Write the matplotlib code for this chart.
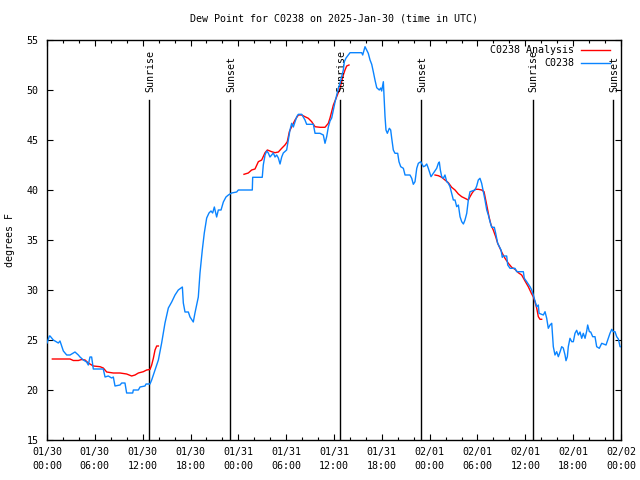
import numpy as np
import matplotlib
matplotlib.use("Agg")
import matplotlib.pyplot as plt
from matplotlib.ticker import MultipleLocator
from matplotlib.lines import Line2D

# ---- data (x = hours since 2025-01-30 00:00 UTC) ----
obs_hours = [0.0, 0.3, 0.38, 0.79, 1.42, 1.63, 2.05, 2.47, 2.89, 3.51, 3.93, 4.14, 4.56, 4.97, 5.18, 5.39,
             5.60, 5.81, 7.06, 7.28, 7.69, 8.11, 8.32, 8.53, 9.16, 9.37, 9.78, 9.99, 10.75, 10.83, 11.46,
             11.67, 12.29, 12.42, 12.92, 13.13, 13.55, 13.97, 14.38, 14.80, 15.22, 15.64, 16.06, 16.47,
             16.98, 17.10, 17.31, 17.73, 17.94, 18.35, 18.56, 18.98, 19.19, 19.48, 19.73, 20.03, 20.32,
             20.57, 20.78, 20.99, 21.28, 21.49, 21.83, 22.12, 22.45, 22.75, 23.16, 23.79, 24.0, 25.75,
             25.8, 27.0, 27.13, 27.35, 27.56, 27.76, 27.97, 28.18, 28.39, 28.60, 28.81, 29.02, 29.23,
             29.44, 29.64, 30.06, 30.27, 30.48, 30.69, 30.90, 31.11, 31.32, 31.53, 31.95, 32.15, 32.36,
             32.57, 33.41, 33.62, 34.24, 34.66, 34.87, 35.08, 35.29, 35.50, 35.71, 35.92, 36.13, 36.34,
             36.54, 36.75, 36.96, 37.17, 37.30, 37.51, 37.80, 38.01, 39.47, 39.60, 39.89, 40.10, 40.30,
             40.52, 40.73, 40.93, 41.14, 41.36, 41.68, 41.86, 41.98, 42.19, 42.27, 42.40, 42.52, 42.69,
             42.94, 43.11, 43.24, 43.44, 43.65, 43.99, 44.15, 44.37, 44.70, 44.91, 45.53, 45.75, 45.95,
             46.16, 46.38, 46.58, 46.88, 47.21, 47.42, 47.63, 47.83, 48.17, 48.46, 48.88, 49.09, 49.21,
             49.34, 49.51, 49.71, 49.92, 50.14, 50.34, 50.55, 50.76, 50.97, 51.18, 51.39, 51.60, 51.81,
             52.02, 52.23, 52.43, 52.65, 52.85, 53.06, 53.69, 53.90, 54.10, 54.31, 54.52, 54.73, 54.94,
             55.16, 55.36, 55.57, 55.78, 56.11, 56.28, 56.53, 56.70, 56.95, 57.11, 57.24, 57.66, 57.79,
             58.08, 58.70, 58.92, 59.75, 59.87, 60.17, 60.59, 60.80, 61.00, 61.21, 61.43, 61.63, 61.72,
             62.26, 62.47, 62.68, 62.88, 63.10, 63.31, 63.43, 63.51, 63.72, 63.93, 64.14, 64.35, 64.56,
             64.76, 64.98, 65.10, 65.27, 65.39, 65.60, 65.82, 66.02, 66.23, 66.44, 66.65, 66.86, 67.07,
             67.27, 67.49, 67.70, 67.82, 68.03, 68.20, 68.45, 68.74, 68.95, 69.28, 69.58, 70.12, 70.41,
             70.62, 70.84, 71.04, 71.25, 71.46, 71.67, 71.88, 72.0]
obs_values = [24.7, 25.4, 25.4, 25.0, 24.7, 24.9, 23.9, 23.5, 23.5, 23.8, 23.5, 23.3, 23.0, 22.8, 22.5, 23.3,
              23.3, 22.1, 22.1, 21.3, 21.4, 21.2, 21.3, 20.4, 20.5, 20.7, 20.7, 19.7, 19.7, 20.0, 20.0,
              20.3, 20.4, 20.6, 20.6, 21.0, 22.0, 23.0, 24.7, 26.7, 28.2, 28.8, 29.5, 30.0,
              30.3, 28.7, 27.8, 27.8, 27.3, 26.8, 27.7, 29.3, 31.7, 34.0, 35.7, 37.2, 37.7,
              37.9, 37.7, 38.3, 37.3, 38.0, 38.0, 38.8, 39.3, 39.5, 39.7, 39.8, 40.0, 40.0,
              41.27, 41.27, 42.5, 43.5, 43.9, 43.7, 43.3, 43.5, 43.7, 43.3, 43.5, 43.2, 42.6,
              43.3, 43.7, 44.0, 45.0, 46.0, 46.67, 46.3, 46.83, 47.33, 47.57, 47.57, 47.3, 47.0,
              46.57, 46.57, 45.67, 45.67, 45.5, 44.67, 45.33, 46.3, 46.9, 47.2, 48.0, 48.8, 49.5,
              50.17, 50.67, 51.33, 52.0, 52.83, 53.2, 53.5, 53.73, 53.73, 53.5, 54.33, 54.0, 53.67,
              53.0, 52.57, 51.83, 51.0, 50.23, 50.0, 50.2, 49.9, 50.83, 49.5, 47.33, 46.0, 45.67,
              46.17, 46.0, 45.17, 44.0, 43.67, 43.67, 42.83, 42.33, 42.17, 41.5, 41.5, 41.17, 40.57,
              40.83, 42.17, 42.67, 42.83, 42.33, 42.4, 42.6, 42.17, 41.33, 41.67, 42.17, 42.67, 42.8,
              42.0, 41.33, 41.17, 41.5, 40.83, 40.67, 40.33, 39.67, 39.0, 39.0, 38.33, 38.5, 37.33,
              36.83, 36.6, 37.0, 37.67, 39.0, 39.83, 40.0, 40.4, 41.0, 41.17, 40.67, 39.83, 39.0,
              38.0, 37.5, 36.83, 36.27, 36.27, 35.67, 34.67, 34.4, 34.0, 33.27, 33.4, 33.4, 32.5,
              32.17, 32.17, 31.83, 31.83, 31.17, 30.83, 30.33, 30.0, 29.5, 28.9, 28.33, 28.5, 27.67,
              27.5, 27.83, 27.17, 26.17, 26.5, 26.67, 25.33, 24.33, 23.5, 23.83, 23.33, 23.8, 24.33,
              24.2, 23.5, 22.93, 23.33, 24.33, 25.17, 24.83, 24.83, 25.67, 25.97, 25.5, 25.8, 25.17,
              25.67, 25.17, 25.9, 26.5, 25.83, 25.8, 25.33, 25.33, 24.33, 24.17, 24.67, 24.5, 25.17,
              25.67, 26.07, 25.83, 25.83, 25.33, 25.1, 24.33, 24.33]

# analysis: three separate windows
ana1_hours = [0.67, 2.89, 3.30, 3.93, 4.35, 4.77, 5.18, 5.81, 6.65, 7.06, 7.49, 8.32, 9.16, 9.99, 10.62,
              11.04, 11.46, 12.08, 12.50, 12.92, 13.13, 13.34, 13.55, 13.76, 13.97]
ana1_values = [23.1, 23.1, 22.95, 22.95, 23.05, 23.0, 22.7, 22.4, 22.33, 22.2, 21.8, 21.7, 21.7, 21.6, 21.4,
               21.5, 21.7, 21.83, 22.0, 22.05, 22.5, 23.17, 24.0, 24.4, 24.4]
ana2_hours = [24.71, 25.25, 25.67, 26.09, 26.51, 26.93, 27.35, 27.64, 28.18, 28.60, 29.02, 29.44, 29.85,
              30.14, 30.40, 30.69, 31.11, 31.53, 31.95, 32.36, 32.78, 33.20, 33.62, 34.24, 34.87, 35.29,
              35.50, 35.92, 36.34, 36.75, 36.96, 37.17, 37.38, 37.59, 37.88]
ana2_values = [41.57, 41.7, 42.0, 42.1, 42.83, 43.0, 43.73, 44.0, 43.83, 43.73, 43.8, 44.17, 44.5,
               44.83, 45.83, 46.33, 47.0, 47.5, 47.5, 47.33, 47.17, 46.83, 46.33, 46.27, 46.27, 46.67,
               47.2, 48.5, 49.33, 50.17, 50.83, 51.5, 52.0, 52.4, 52.5]
ana3_hours = [48.67, 49.09, 49.51, 49.92, 50.34, 50.76, 51.18, 51.60, 52.02, 52.43, 52.85, 53.06, 53.35,
              53.69, 54.10, 54.52, 54.82, 55.03, 55.28, 55.44, 55.70, 55.98, 56.28, 56.53, 56.82, 57.11,
              57.45, 57.87, 58.29, 58.70, 59.12, 59.54, 59.96, 60.37, 60.80, 61.00, 61.21, 61.43, 61.63,
              61.84, 62.05]
ana3_values = [41.5, 41.43, 41.27, 41.0, 40.73, 40.27, 40.0, 39.6, 39.33, 39.17, 39.0, 39.33, 39.73,
               40.07, 40.07, 40.0, 39.83, 39.0, 38.0, 37.33, 36.5, 36.0, 35.33, 34.67, 34.17, 33.67,
               33.17, 32.67, 32.27, 32.07, 31.73, 31.5, 30.9, 30.33, 29.6, 29.33, 28.83, 28.17, 27.33,
               27.07, 27.07]

sunrise_hours = [12.83, 36.80, 60.90]
sunset_hours = [23.00, 46.97, 71.05]

x_tick_labels = ["01/30\n00:00", "01/30\n06:00", "01/30\n12:00", "01/30\n18:00",
                 "01/31\n00:00", "01/31\n06:00", "01/31\n12:00", "01/31\n18:00",
                 "02/01\n00:00", "02/01\n06:00", "02/01\n12:00", "02/01\n18:00",
                 "02/02\n00:00"]

title = "Dew Point for C0238 on 2025-Jan-30 (time in UTC)"
ylabel = "degrees F"
obs_name = "C0238"
ana_name = "C0238 Analysis"

# ---- plot ----
FONT = "DejaVu Sans Mono"
FS = 7.2
BLUE = "#0a84ff"
RED = "#ff0000"

fig = plt.figure(figsize=(6.4, 4.8), dpi=100)
ax = fig.add_axes([47 / 640, 40 / 480, 574 / 640, 400 / 480])

for h in sunrise_hours + sunset_hours:
    ax.plot([h, h], [15, 49], color="black", lw=1.0, zorder=1)
for h in sunrise_hours:
    ax.text(h + 0.1, 49.8, "Sunrise", rotation=90, ha="center", va="bottom",
            fontsize=FS, family=FONT)
for h in sunset_hours:
    ax.text(h + 0.1, 49.8, "Sunset", rotation=90, ha="center", va="bottom",
            fontsize=FS, family=FONT)

ax.plot(obs_hours, obs_values, color=BLUE, lw=1.0, zorder=3)
for hh, vv in [(ana1_hours, ana1_values), (ana2_hours, ana2_values), (ana3_hours, ana3_values)]:
    ax.plot(hh, vv, color=RED, lw=1.0, zorder=2)

ax.set_xlim(0, 72)
ax.set_ylim(15, 55)
ax.set_xticks(np.arange(0, 73, 6))
ax.set_xticklabels(x_tick_labels, family=FONT, fontsize=FS, linespacing=1.45)
ax.xaxis.set_minor_locator(MultipleLocator(2))
ax.set_yticks(np.arange(15, 56, 5))
ax.set_yticklabels([str(v) for v in range(15, 56, 5)], family=FONT, fontsize=FS)
ax.tick_params(which="both", direction="in", top=True, right=True, width=0.8, color="black")
ax.tick_params(which="major", length=4.0, pad=5)
ax.tick_params(which="minor", length=2.0)
ax.tick_params(axis="y", pad=6)
for s in ax.spines.values():
    s.set_linewidth(1.0)

ax.set_ylabel(ylabel, family=FONT, fontsize=FS, va="center")
ax.yaxis.set_label_coords(-37 / 574, 0.5)
ax.text(0.5, 1 + 21 / 400, title, transform=ax.transAxes, ha="center", va="center",
        family=FONT, fontsize=FS)

# legend (top right, text right-aligned, sample to the right)
for yy, name, col in [(0.975, ana_name, RED), (0.943, obs_name, BLUE)]:
    ax.text(0.918, yy, name, transform=ax.transAxes, ha="right", va="center",
            family=FONT, fontsize=FS, zorder=5)
    ax.add_line(Line2D([0.930, 0.981], [yy, yy], transform=ax.transAxes, color=col, lw=1.0, zorder=5))

fig.savefig("out.png", dpi=100, facecolor="white")
